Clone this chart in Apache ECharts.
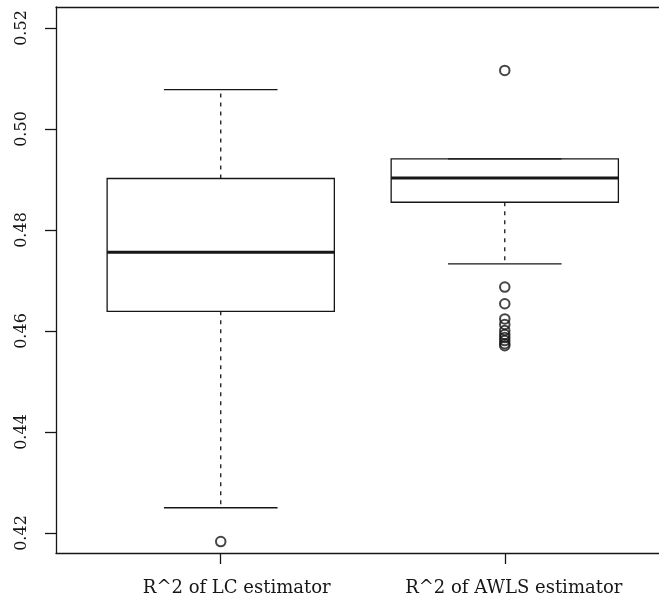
<!DOCTYPE html>
<html>
<head>
<meta charset="utf-8">
<script src="https://cdn.jsdelivr.net/npm/echarts@6/dist/echarts.min.js"></script>
<style>
  html, body { margin: 0; padding: 0; background: #fff; }
  #chart { width: 659px; height: 599px; }
</style>
</head>
<body>
<div id="chart"></div>
<script>
// Group labels and five-number summaries of the two estimators
const categories = ['R^2 of LC estimator', 'R^2 of AWLS estimator'];
const lowerWhisker = [0.4250, 0.4733];
const lowerQuartile = [0.4639, 0.4855];
const medians = [0.4756, 0.4903];
const upperQuartile = [0.4902, 0.4941];
const upperWhisker = [0.5078, 0.4941];

// Points beyond the whiskers
const outliersLC = [0.4183];
const outliersAWLS = [0.5116, 0.4687, 0.4654, 0.4624, 0.4613, 0.4601, 0.4593, 0.4587, 0.4581, 0.4575, 0.4571];

// Value axis tick labels
const yTicks = [0.42, 0.44, 0.46, 0.48, 0.50, 0.52];

const ink = '#161616';
const serif = 'DejaVu Serif';
const xMin = 0.42, xMax = 2.543;

const boxData = categories.map((_, i) => [
  i + 1, lowerWhisker[i], lowerQuartile[i], medians[i], upperQuartile[i], upperWhisker[i]
]);

function renderBox(params, api) {
  const pos = api.value(0);
  const x = api.coord([pos, 0])[0];
  const half = api.size([0.4, 0])[0];
  const capHalf = api.size([0.2, 0])[0];
  const y = k => api.coord([pos, api.value(k)])[1];
  const lw = y(1), q1 = y(2), med = y(3), q3 = y(4), uw = y(5);
  const thin = { stroke: ink, lineWidth: 1.3, fill: null };
  const dashed = { stroke: ink, lineWidth: 1.3, lineDash: [4, 5] };
  return {
    type: 'group',
    children: [
      { type: 'line', shape: { x1: x, y1: q3, x2: x, y2: uw }, style: dashed },
      { type: 'line', shape: { x1: x, y1: q1, x2: x, y2: lw }, style: dashed },
      { type: 'rect', shape: { x: x - half, y: q3, width: 2 * half, height: q1 - q3 }, style: thin },
      { type: 'line', shape: { x1: x - half, y1: med, x2: x + half, y2: med }, style: { stroke: ink, lineWidth: 3.2 } },
      { type: 'line', shape: { x1: x - capHalf, y1: uw, x2: x + capHalf, y2: uw }, style: thin },
      { type: 'line', shape: { x1: x - capHalf, y1: lw, x2: x + capHalf, y2: lw }, style: thin }
    ]
  };
}

const outlierStyle = { color: 'rgba(0,0,0,0)', borderColor: ink, borderWidth: 2 };
const labelFont = { fontFamily: serif, fontSize: 18, color: ink };

const chart = echarts.init(document.getElementById('chart'), null, { renderer: 'canvas' });
chart.setOption({
  animation: false,
  backgroundColor: '#fff',
  grid: { left: 56, top: 7, bottom: 46, right: 0 },
  xAxis: [
    {
      type: 'value',
      position: 'bottom',
      min: xMin,
      max: xMax,
      splitLine: { show: false },
      axisLine: { show: true, lineStyle: { color: ink, width: 1.3 } },
      axisTick: { show: true, customValues: [1, 2], length: 11, lineStyle: { color: ink, width: 1.3 } },
      axisLabel: {
        customValues: [1, 2],
        formatter: v => {
          const i = Math.round(v) - 1;
          return '{g' + i + '|' + categories[i] + '}';
        },
        margin: 26,
        ...labelFont,
        rich: {
          g0: { ...labelFont, padding: [0, 0, 0, 32] },
          g1: { ...labelFont, padding: [0, 0, 0, 18] }
        }
      }
    },
    {
      // top edge of the plot frame
      type: 'value',
      position: 'top',
      min: xMin,
      max: xMax,
      splitLine: { show: false },
      axisLine: { show: true, lineStyle: { color: ink, width: 1.3 } },
      axisTick: { show: false },
      axisLabel: { show: false }
    }
  ],
  yAxis: {
    type: 'value',
    min: 0.41604,
    max: 0.52416,
    splitLine: { show: false },
    axisLine: { show: true, lineStyle: { color: ink, width: 1.3 } },
    axisTick: { show: true, customValues: yTicks, length: 11, lineStyle: { color: ink, width: 1.3 } },
    axisLabel: {
      customValues: yTicks,
      rotate: 90,
      formatter: v => v.toFixed(2),
      fontFamily: serif, fontSize: 16, color: ink, margin: 26
    }
  },
  series: [
    {
      type: 'custom',
      renderItem: renderBox,
      data: boxData,
      encode: { x: 0, y: [1, 2, 3, 4, 5] },
      z: 2
    },
    {
      type: 'scatter',
      data: outliersLC.map(v => [1, v]),
      symbol: 'circle',
      symbolSize: 9.5,
      itemStyle: outlierStyle,
      z: 3
    },
    {
      type: 'scatter',
      data: outliersAWLS.map(v => [2, v]),
      symbol: 'circle',
      symbolSize: 9.5,
      itemStyle: outlierStyle,
      z: 3
    }
  ]
});
</script>
</body>
</html>
